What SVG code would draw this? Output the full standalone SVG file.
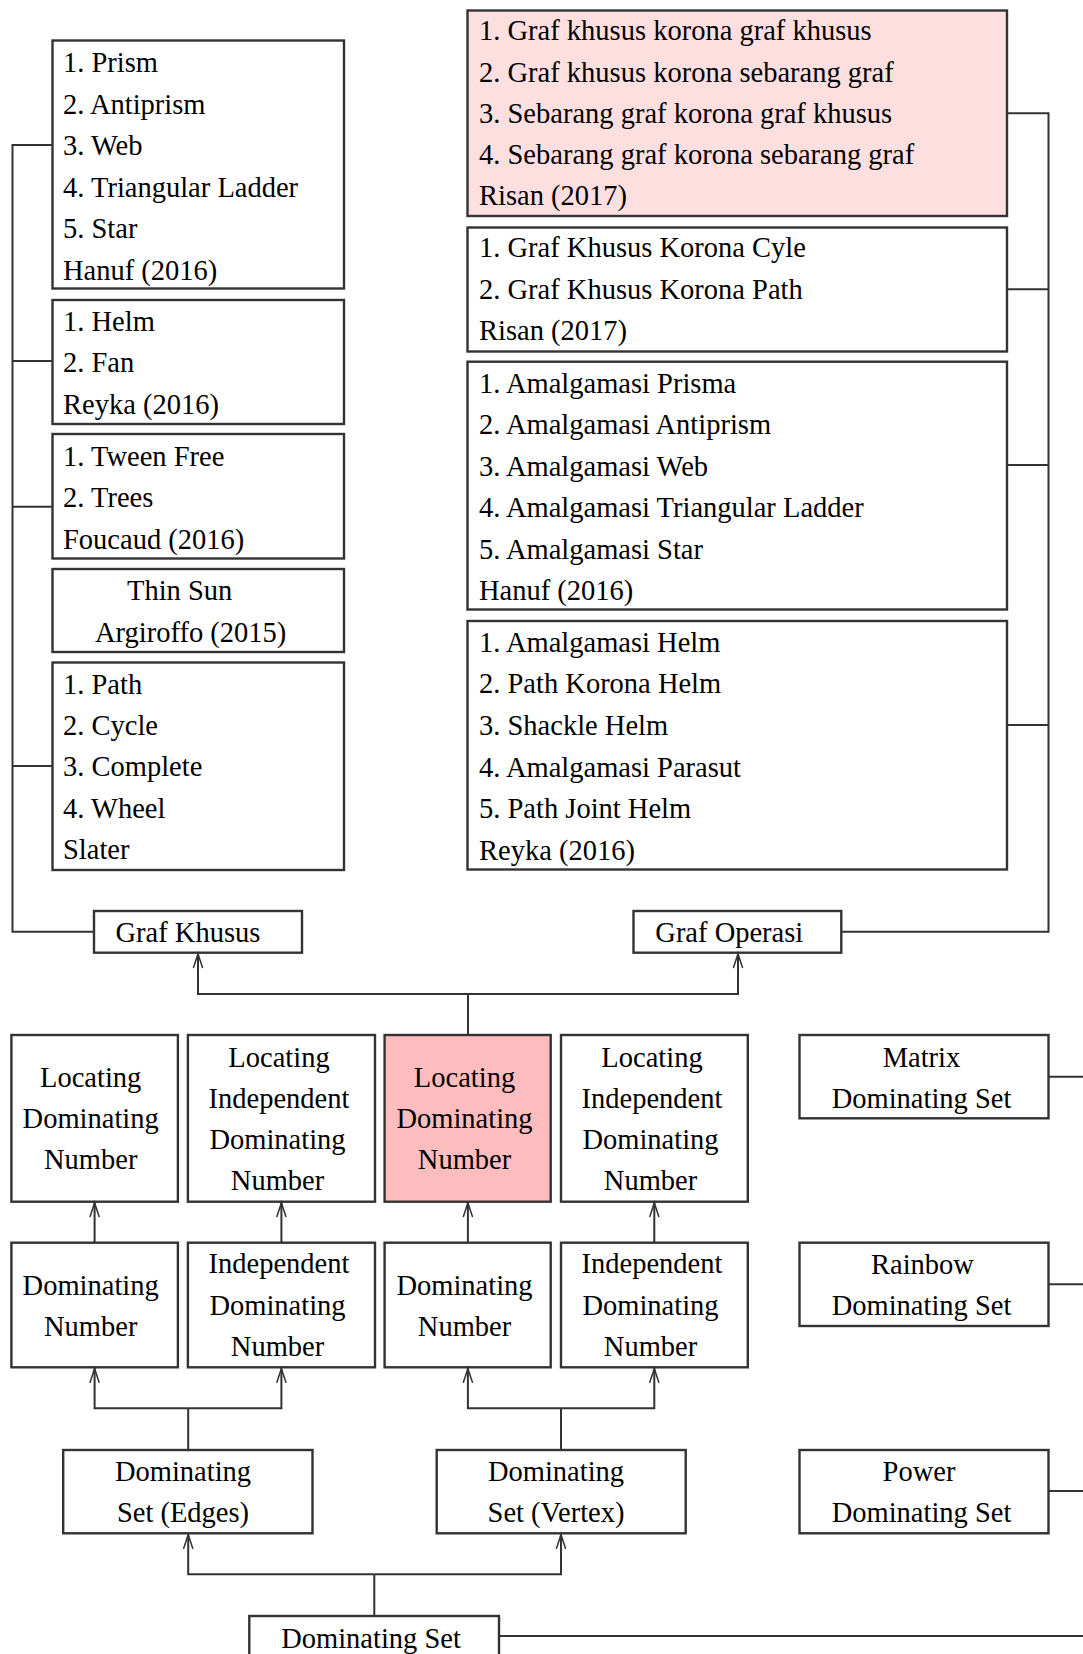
<svg xmlns="http://www.w3.org/2000/svg" width="1083" height="1654" viewBox="0 0 1083 1654">
<style>
  .box { fill: none; stroke: #333; stroke-width: 2.4; }
  .pink1 { fill: #fddfe0; }
  .pink2 { fill: #fdbdbe; }
  text { font-family: "Liberation Serif", "Times New Roman", serif; font-size: 28.5px; fill: #000; }
  .c { text-anchor: middle; }
  .ln { fill: none; stroke: #333; stroke-width: 2; }
  .ar { fill: none; stroke: #333; stroke-width: 2; marker-end: url(#tip); }
</style>
<defs>
  <marker id="tip" markerUnits="userSpaceOnUse" markerWidth="20" markerHeight="14" refX="0" refY="0" viewBox="-16 -7 18 14" orient="auto" overflow="visible">
    <path d="M-14,-4.5 C-8,-2.5 -3,-0.8 0,0 C-3,0.8 -8,2.5 -14,4.5" fill="none" stroke="#333" stroke-width="1.5" stroke-linecap="round"/>
  </marker>
</defs>
<rect x="0" y="0" width="1083" height="1654" fill="#ffffff"/>

<g id="connectors">
  <polyline class="ln" points="94,931.7 12.5,931.7 12.5,145 52.5,145"/>
  <line class="ln" x1="12.5" y1="361" x2="52.5" y2="361"/>
  <line class="ln" x1="12.5" y1="506.7" x2="52.5" y2="506.7"/>
  <line class="ln" x1="12.5" y1="766" x2="52.5" y2="766"/>
  <polyline class="ln" points="841.3,931.7 1048.5,931.7 1048.5,113.3 1007,113.3"/>
  <line class="ln" x1="1007" y1="289.3" x2="1048.5" y2="289.3"/>
  <line class="ln" x1="1007" y1="465" x2="1048.5" y2="465"/>
  <line class="ln" x1="1007" y1="725" x2="1048.5" y2="725"/>
  <line class="ln" x1="468" y1="1035" x2="468" y2="994"/>
  <polyline class="ar" points="468,994 198,994 198,953.5"/>
  <polyline class="ar" points="468,994 738,994 738,953.5"/>
  <line class="ar" x1="94.6" y1="1242.7" x2="94.6" y2="1202.5"/>
  <line class="ar" x1="281.4" y1="1242.7" x2="281.4" y2="1202.5"/>
  <line class="ar" x1="467.9" y1="1242.7" x2="467.9" y2="1202.5"/>
  <line class="ar" x1="654.3" y1="1242.7" x2="654.3" y2="1202.5"/>
  <line class="ln" x1="188.2" y1="1450" x2="188.2" y2="1408.3"/>
  <polyline class="ar" points="188.2,1408.3 94.6,1408.3 94.6,1368.2"/>
  <polyline class="ar" points="188.2,1408.3 281.4,1408.3 281.4,1368.2"/>
  <line class="ln" x1="561" y1="1450" x2="561" y2="1408.3"/>
  <polyline class="ar" points="561,1408.3 467.9,1408.3 467.9,1368.2"/>
  <polyline class="ar" points="561,1408.3 654.3,1408.3 654.3,1368.2"/>
  <line class="ln" x1="374.3" y1="1616" x2="374.3" y2="1574.3"/>
  <polyline class="ar" points="374.3,1574.3 188.2,1574.3 188.2,1534.2"/>
  <polyline class="ar" points="374.3,1574.3 561,1574.3 561,1534.2"/>
  <line class="ln" x1="1049" y1="1076.7" x2="1083" y2="1076.7"/>
  <line class="ln" x1="1049" y1="1284.3" x2="1083" y2="1284.3"/>
  <line class="ln" x1="1049" y1="1491" x2="1083" y2="1491"/>
  <line class="ln" x1="499" y1="1636" x2="1083" y2="1636"/>
</g>

<g id="hanuf-special">
  <rect class="box" x="52.5" y="40.5" width="291.5" height="248"/>
  <text x="63" y="72">1. Prism</text>
  <text x="63" y="113.5">2. Antiprism</text>
  <text x="63" y="155">3. Web</text>
  <text x="63" y="196.5">4. Triangular Ladder</text>
  <text x="63" y="238">5. Star</text>
  <text x="63" y="279.5">Hanuf (2016)</text>
</g>
<g id="reyka-special">
  <rect class="box" x="52.5" y="300" width="291.5" height="124"/>
  <text x="63" y="331">1. Helm</text>
  <text x="63" y="372">2. Fan</text>
  <text x="63" y="413.5">Reyka (2016)</text>
</g>
<g id="foucaud">
  <rect class="box" x="52.5" y="434" width="291.5" height="124.5"/>
  <text x="63" y="465.5">1. Tween Free</text>
  <text x="63" y="507">2. Trees</text>
  <text x="63" y="548.5">Foucaud (2016)</text>
</g>
<g id="argiroffo">
  <rect class="box" x="52.5" y="569" width="291.5" height="83"/>
  <text x="127" y="600">Thin Sun</text>
  <text x="95" y="641.5">Argiroffo (2015)</text>
</g>
<g id="slater">
  <rect class="box" x="52.5" y="662.5" width="291.5" height="207.5"/>
  <text x="63" y="693.5">1. Path</text>
  <text x="63" y="735">2. Cycle</text>
  <text x="63" y="776">3. Complete</text>
  <text x="63" y="817.5">4. Wheel</text>
  <text x="63" y="859">Slater</text>
</g>

<g id="risan-korona">
  <rect class="box pink1" x="467.5" y="10.5" width="539.5" height="205.5"/>
  <text x="479" y="40">1. Graf khusus korona graf khusus</text>
  <text x="479" y="81.5">2. Graf khusus korona sebarang graf</text>
  <text x="479" y="122.5">3. Sebarang graf korona graf khusus</text>
  <text x="479" y="164">4. Sebarang graf korona sebarang graf</text>
  <text x="479" y="205">Risan (2017)</text>
</g>
<g id="risan-cycle-path">
  <rect class="box" x="467.5" y="227.5" width="539.5" height="124"/>
  <text x="479" y="257">1. Graf Khusus Korona Cyle</text>
  <text x="479" y="298.5">2. Graf Khusus Korona Path</text>
  <text x="479" y="340">Risan (2017)</text>
</g>
<g id="hanuf-amalgamasi">
  <rect class="box" x="467.5" y="361.7" width="539.5" height="247.8"/>
  <text x="479" y="392.7">1. Amalgamasi Prisma</text>
  <text x="479" y="434">2. Amalgamasi Antiprism</text>
  <text x="479" y="475.5">3. Amalgamasi Web</text>
  <text x="479" y="517">4. Amalgamasi Triangular Ladder</text>
  <text x="479" y="558.5">5. Amalgamasi Star</text>
  <text x="479" y="600">Hanuf (2016)</text>
</g>
<g id="reyka-helm">
  <rect class="box" x="467.5" y="621" width="539.5" height="248.5"/>
  <text x="479" y="651.7">1. Amalgamasi Helm</text>
  <text x="479" y="693.3">2. Path Korona Helm</text>
  <text x="479" y="735">3. Shackle Helm</text>
  <text x="479" y="776.7">4. Amalgamasi Parasut</text>
  <text x="479" y="818.3">5. Path Joint Helm</text>
  <text x="479" y="860">Reyka (2016)</text>
</g>

<g id="graf-khusus">
  <rect class="box" x="94" y="911" width="208" height="41.7"/>
  <text x="115.5" y="941.7">Graf Khusus</text>
</g>
<g id="graf-operasi">
  <rect class="box" x="633.5" y="911" width="207.8" height="41.7"/>
  <text x="655.3" y="941.7">Graf Operasi</text>
</g>

<g id="ldn-1">
  <rect class="box" x="11.4" y="1035" width="166.5" height="166.7"/>
  <text class="c" x="90.7" y="1086.7">Locating</text>
  <text class="c" x="90.7" y="1128.3">Dominating</text>
  <text class="c" x="90.7" y="1168.8">Number</text>
</g>
<g id="lidn-1">
  <rect class="box" x="187.9" y="1035" width="187.1" height="166.7"/>
  <text class="c" x="279" y="1066.7">Locating</text>
  <text class="c" x="279" y="1108.3">Independent</text>
  <text class="c" x="277.5" y="1149.3">Dominating</text>
  <text class="c" x="277.5" y="1190">Number</text>
</g>
<g id="ldn-2">
  <rect class="box pink2" x="384.6" y="1035" width="166.1" height="166.7"/>
  <text class="c" x="464.5" y="1086.7">Locating</text>
  <text class="c" x="464.5" y="1128.3">Dominating</text>
  <text class="c" x="464.5" y="1168.8">Number</text>
</g>
<g id="lidn-2">
  <rect class="box" x="561" y="1035" width="186.8" height="166.7"/>
  <text class="c" x="652" y="1066.7">Locating</text>
  <text class="c" x="652" y="1108.3">Independent</text>
  <text class="c" x="650.5" y="1149.3">Dominating</text>
  <text class="c" x="650.5" y="1190">Number</text>
</g>
<g id="matrix">
  <rect class="box" x="799.5" y="1035" width="249" height="83.3"/>
  <text class="c" x="921.5" y="1066.7">Matrix</text>
  <text class="c" x="921.5" y="1108.3">Dominating Set</text>
</g>

<g id="dn-1">
  <rect class="box" x="11.4" y="1242.7" width="166.5" height="124.6"/>
  <text class="c" x="90.7" y="1295">Dominating</text>
  <text class="c" x="90.7" y="1335.5">Number</text>
</g>
<g id="idn-1">
  <rect class="box" x="187.9" y="1242.7" width="187.1" height="124.6"/>
  <text class="c" x="279" y="1273.3">Independent</text>
  <text class="c" x="277.5" y="1315">Dominating</text>
  <text class="c" x="277.5" y="1356">Number</text>
</g>
<g id="dn-2">
  <rect class="box" x="384.6" y="1242.7" width="166.1" height="124.6"/>
  <text class="c" x="464.5" y="1295">Dominating</text>
  <text class="c" x="464.5" y="1335.5">Number</text>
</g>
<g id="idn-2">
  <rect class="box" x="561" y="1242.7" width="186.8" height="124.6"/>
  <text class="c" x="652" y="1273.3">Independent</text>
  <text class="c" x="650.5" y="1315">Dominating</text>
  <text class="c" x="650.5" y="1356">Number</text>
</g>
<g id="rainbow">
  <rect class="box" x="799.5" y="1242.7" width="249" height="83.3"/>
  <text class="c" x="922.5" y="1274">Rainbow</text>
  <text class="c" x="921.5" y="1315">Dominating Set</text>
</g>

<g id="ds-edges">
  <rect class="box" x="63.2" y="1450" width="249.3" height="83.3"/>
  <text class="c" x="183" y="1480.5">Dominating</text>
  <text class="c" x="183" y="1521.7">Set (Edges)</text>
</g>
<g id="ds-vertex">
  <rect class="box" x="436.7" y="1450" width="249" height="83.3"/>
  <text class="c" x="556" y="1480.5">Dominating</text>
  <text class="c" x="556" y="1521.7">Set (Vertex)</text>
</g>
<g id="power">
  <rect class="box" x="799.5" y="1450" width="249" height="83.3"/>
  <text class="c" x="919" y="1480.5">Power</text>
  <text class="c" x="921.5" y="1521.7">Dominating Set</text>
</g>

<g id="dominating-set">
  <rect class="box" x="249.3" y="1616" width="249.7" height="50"/>
  <text class="c" x="371" y="1647.5">Dominating Set</text>
</g>
</svg>
